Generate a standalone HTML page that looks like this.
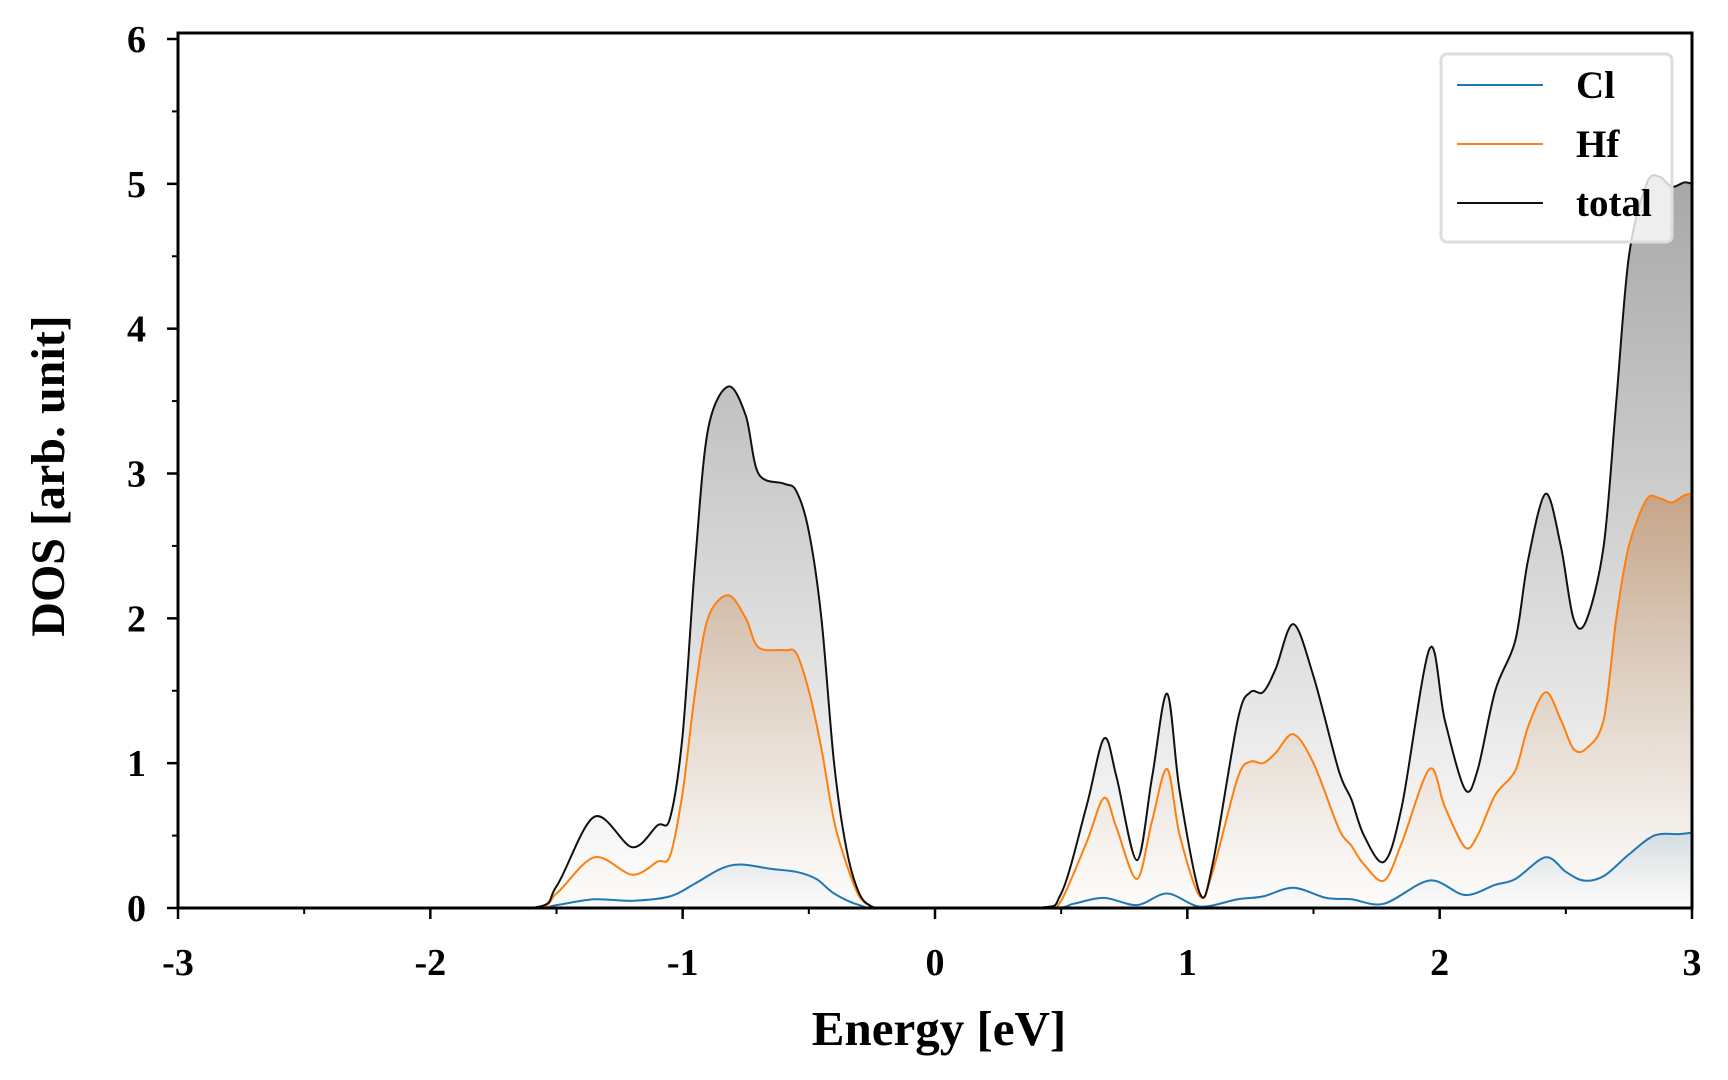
<!DOCTYPE html>
<html><head><meta charset="utf-8"><style>
html,body{margin:0;padding:0;background:#fff;}
svg{display:block;font-family:"Liberation Serif",serif;font-weight:bold;}
</style></head><body>
<svg id="chart" width="1728" height="1080" viewBox="0 0 1728 1080" xmlns="http://www.w3.org/2000/svg">
<defs>
<linearGradient id="gTot" gradientUnits="userSpaceOnUse" x1="0" y1="185" x2="0" y2="908">
<stop offset="0" stop-color="#999" stop-opacity="0.85"/><stop offset="1" stop-color="#999" stop-opacity="0"/></linearGradient>
<linearGradient id="gHf" gradientUnits="userSpaceOnUse" x1="0" y1="497" x2="0" y2="908">
<stop offset="0" stop-color="#c08a5a" stop-opacity="0.6"/><stop offset="1" stop-color="#f0d8c0" stop-opacity="0.05"/></linearGradient>
<linearGradient id="gCl" gradientUnits="userSpaceOnUse" x1="0" y1="838" x2="0" y2="908">
<stop offset="0" stop-color="#8fb3c8" stop-opacity="0.3"/><stop offset="1" stop-color="#cfe0ea" stop-opacity="0.05"/></linearGradient>
<clipPath id="clip"><rect x="178" y="33" width="1514" height="875"/></clipPath>
</defs>
<g id="fills" clip-path="url(#clip)"></g>
<g id="lines" clip-path="url(#clip)"></g>
<g id="axes"></g>
<g>
<rect x="1441" y="54" width="231" height="188" rx="6" fill="#fff" fill-opacity="0.8" stroke="#ddd" stroke-width="3"/>
<line x1="1457" y1="85" x2="1543" y2="85" stroke="#1f77b4" stroke-width="2"/>
<text x="1576" y="98" font-size="39">Cl</text>
<line x1="1457" y1="144" x2="1543" y2="144" stroke="#ff7f0e" stroke-width="2"/>
<text x="1576" y="157" font-size="39">Hf</text>
<line x1="1457" y1="203" x2="1543" y2="203" stroke="#111" stroke-width="2"/>
<text x="1576" y="216" font-size="39">total</text>
</g>
<text x="939" y="1045" font-size="49" text-anchor="middle">Energy [eV]</text>
<text transform="translate(64,476) rotate(-90)" font-size="48" text-anchor="middle">DOS [arb. unit]</text>
</svg>
<script>
const totalE=[-3,-1.6,-1.5,-1.35,-1.2,-1.1,-1.05,-1.0,-0.95,-0.9,-0.82,-0.75,-0.7,-0.6,-0.55,-0.5,-0.45,-0.4,-0.35,-0.3,-0.25,-0.2,0.4,0.5,0.6,0.67,0.72,0.8,0.86,0.92,0.97,1.05,1.1,1.2,1.25,1.3,1.35,1.42,1.5,1.6,1.65,1.7,1.78,1.85,1.96,2.02,2.1,2.15,2.22,2.3,2.35,2.42,2.48,2.53,2.58,2.65,2.7,2.75,2.82,2.87,2.92,2.97,3.0];
const totalV=[0,0,0.15,0.63,0.42,0.57,0.62,1.2,2.4,3.3,3.6,3.4,3.0,2.93,2.88,2.6,2.0,1.0,0.4,0.1,0.01,0,0,0.1,0.7,1.17,0.9,0.33,0.9,1.48,0.8,0.1,0.3,1.3,1.49,1.49,1.65,1.96,1.6,0.95,0.75,0.5,0.32,0.7,1.79,1.3,0.82,0.95,1.5,1.85,2.4,2.86,2.5,2.0,1.98,2.5,3.5,4.5,5.0,5.05,4.98,5.01,5.0];
const hfE=[-3,-1.6,-1.5,-1.35,-1.2,-1.1,-1.05,-1.0,-0.95,-0.9,-0.82,-0.75,-0.7,-0.6,-0.55,-0.5,-0.45,-0.4,-0.35,-0.3,-0.25,-0.2,0.45,0.5,0.6,0.67,0.72,0.8,0.86,0.92,0.97,1.05,1.1,1.2,1.25,1.3,1.35,1.42,1.5,1.6,1.65,1.7,1.78,1.85,1.96,2.02,2.1,2.15,2.22,2.3,2.35,2.42,2.48,2.53,2.58,2.65,2.7,2.75,2.82,2.87,2.92,2.97,3.0];
const hfV=[0,0,0.1,0.35,0.23,0.32,0.36,0.8,1.5,2.0,2.16,2.0,1.8,1.78,1.76,1.5,1.1,0.6,0.3,0.08,0.01,0,0,0.05,0.45,0.76,0.55,0.2,0.6,0.96,0.5,0.08,0.25,0.9,1.01,1.0,1.07,1.2,1.0,0.55,0.43,0.3,0.19,0.45,0.96,0.7,0.42,0.5,0.78,0.95,1.25,1.49,1.3,1.1,1.1,1.3,2.0,2.5,2.82,2.83,2.8,2.85,2.86];
const clE=[-3,-1.6,-1.5,-1.35,-1.2,-1.05,-0.95,-0.85,-0.77,-0.65,-0.55,-0.47,-0.4,-0.3,-0.2,0.45,0.55,0.67,0.8,0.92,1.05,1.2,1.3,1.42,1.55,1.65,1.78,1.96,2.1,2.22,2.3,2.42,2.5,2.57,2.65,2.75,2.85,2.95,3.0];
const clV=[0,0,0.02,0.06,0.05,0.08,0.17,0.27,0.3,0.27,0.25,0.2,0.1,0.02,0,0,0.03,0.07,0.02,0.1,0.01,0.06,0.08,0.14,0.07,0.06,0.03,0.19,0.09,0.16,0.2,0.35,0.25,0.19,0.22,0.37,0.5,0.51,0.52];
const xTicks=[-3,-2,-1,0,1,2,3];
const yTicks=[0,1,2,3,4,5,6];
const xLabels=["-3","-2","-1","0","1","2","3"];
const yLabels=["0","1","2","3","4","5","6"];

const X0=178,X1=1692,Y0=908,Y6=39;
const sx=e=>X0+(e+3)/6*(X1-X0);
const sy=v=>Y0-v/6*(Y0-Y6);
const NS="http://www.w3.org/2000/svg";
function mk(t,a,p){const el=document.createElementNS(NS,t);for(const k in a)el.setAttribute(k,a[k]);p.appendChild(el);return el;}
function pathD(E,V){
  const P=E.map((e,i)=>[sx(e),sy(V[i])]);
  let d="M"+P[0][0].toFixed(1)+","+P[0][1].toFixed(1);
  for(let i=0;i<P.length-1;i++){
    const p0=P[Math.max(0,i-1)],p1=P[i],p2=P[i+1],p3=P[Math.min(P.length-1,i+2)];
    const t=0.16;
    let c1=[p1[0]+(p2[0]-p0[0])*t,p1[1]+(p2[1]-p0[1])*t];
    let c2=[p2[0]-(p3[0]-p1[0])*t,p2[1]-(p3[1]-p1[1])*t];
    c1[1]=Math.min(c1[1],Y0);c2[1]=Math.min(c2[1],Y0);
    c1[0]=Math.min(Math.max(c1[0],p1[0]),p2[0]);c2[0]=Math.min(Math.max(c2[0],p1[0]),p2[0]);
    d+=" C"+c1[0].toFixed(1)+","+c1[1].toFixed(1)+" "+c2[0].toFixed(1)+","+c2[1].toFixed(1)+" "+p2[0].toFixed(1)+","+p2[1].toFixed(1);
  }
  return d;
}
const fills=document.getElementById('fills'),lines=document.getElementById('lines'),axes=document.getElementById('axes');
const series=[["total",totalE,totalV,"#111","url(#gTot)"],["hf",hfE,hfV,"#ff7f0e","url(#gHf)"],["cl",clE,clV,"#1f77b4","url(#gCl)"]];
series.forEach(s=>{
  const d=pathD(s[1],s[2]);
  const f=mk('path',{d:d+" L"+sx(3)+","+Y0+" L"+sx(-3)+","+Y0+" Z",fill:s[4],stroke:"none"},fills);
  
  
});
series.slice().reverse().forEach(s=>{
  const l=mk('path',{d:pathD(s[1],s[2]),fill:"none",stroke:s[3],"stroke-width":2},lines);
  
  
});
const frame=mk('rect',{x:X0,y:33,width:X1-X0,height:Y0-33,fill:"none",stroke:"#000","stroke-width":3},axes);


xTicks.forEach((t,i)=>{
  const tk=mk('line',{x1:sx(t),x2:sx(t),y1:Y0,y2:Y0+11,stroke:"#000","stroke-width":2.5},axes);
  
  
  const tx=mk('text',{x:sx(t),y:975,"font-size":38,"text-anchor":"middle"},axes);
  tx.textContent=xLabels[i];
  
  
  if(i<xTicks.length-1){
    const m=mk('line',{x1:sx(t+0.5),x2:sx(t+0.5),y1:Y0,y2:Y0+6,stroke:"#000","stroke-width":2},axes);
    
    
  }
});
yTicks.forEach((t,i)=>{
  const tk=mk('line',{x1:X0-11,x2:X0,y1:sy(t),y2:sy(t),stroke:"#000","stroke-width":2.5},axes);
  
  
  const tx=mk('text',{x:146,y:sy(t)+13,"font-size":38,"text-anchor":"end"},axes);
  tx.textContent=yLabels[i];
  
  
  if(i<yTicks.length-1){
    const m=mk('line',{x1:X0-6,x2:X0,y1:sy(t+0.5),y2:sy(t+0.5),stroke:"#000","stroke-width":2},axes);
    
    
  }
});
</script>
</body></html>
